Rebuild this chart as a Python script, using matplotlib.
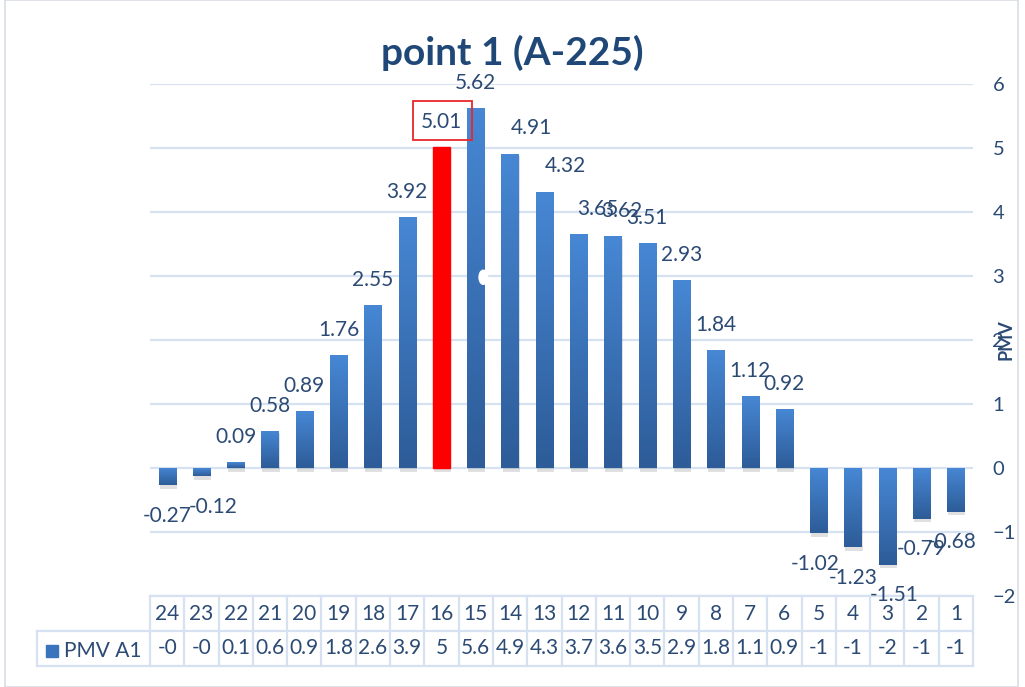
import matplotlib
matplotlib.use("Agg")
import matplotlib.pyplot as plt
import numpy as np
from matplotlib.patches import Rectangle, Ellipse
from matplotlib.colors import LinearSegmentedColormap

plt.rcParams['font.family'] = ['Lato', 'DejaVu Sans']

# data
hours = ['24', '23', '22', '21', '20', '19', '18', '17', '16', '15', '14', '13',
         '12', '11', '10', '9', '8', '7', '6', '5', '4', '3', '2', '1']
pmv = [-0.27, -0.12, 0.09, 0.58, 0.89, 1.76, 2.55, 3.92, 5.01, 5.62, 4.91, 4.32,
       3.65, 3.62, 3.51, 2.93, 1.84, 1.12, 0.92, -1.02, -1.23, -1.51, -0.79, -0.68]
table_vals = ['-0', '-0', '0.1', '0.6', '0.9', '1.8', '2.6', '3.9', '5', '5.6', '4.9', '4.3',
              '3.7', '3.6', '3.5', '2.9', '1.8', '1.1', '0.9', '-1', '-1', '-2', '-1', '-1']
highlight = '16'

txt = '#2B4A74'
grid_c = '#D6E2F1'

W, H = 1025, 687
fig = plt.figure(figsize=(W / 100, H / 100), dpi=100)
ax = fig.add_axes([150 / W, (H - 596) / H, (973 - 150) / W, (596 - 84) / H])

x = np.arange(len(hours))
ax.set_yticks(range(-2, 7))
ax.grid(axis='y', color=grid_c, lw=1.6)
ax.set_axisbelow(True)
for s in ax.spines.values():
    s.set_visible(False)
ax.yaxis.tick_right()
ax.tick_params(axis='y', length=0, pad=14, labelsize=14.5, labelcolor=txt)
ax.set_xticks([])

# gradient image for bars
grad = np.linspace(0, 1, 100).reshape(-1, 1)
cmap = LinearSegmentedColormap.from_list('b', ['#2D5C98', '#4787D4'])

bars = ax.bar(x, pmv, width=0.5, color='#3A74BD', zorder=3)
for b, h, v in zip(bars, hours, pmv):
    bx, bw = b.get_x(), b.get_width()
    # soft shadow
    ax.add_patch(Rectangle((bx + 0.03, min(0, v) - 0.06), bw, abs(v) + 0.02,
                           color='#000000', alpha=0.12, lw=0, zorder=2))
    if h == highlight:
        b.set_color('#FF0000')
        continue
    b.set_alpha(0)
    lo, hi = min(0, v), max(0, v)
    im = ax.imshow(grad, extent=(bx, bx + bw, lo, hi), origin='lower', cmap=cmap,
                   aspect='auto', zorder=3)
    im.set_clip_path(Rectangle((bx, lo), bw, hi - lo, transform=ax.transData))
ax.set_xlim(-0.5, len(hours) - 0.5)
ax.set_ylim(-2, 6)

# data labels
xoff = {'23': 0.35, '14': 0.62, '13': 0.62, '12': 0.55, '11': 0.25, '5': -0.1,
        '3': 0.2, '1': -0.1}
for xi, h, v in zip(x, hours, pmv):
    dx = xoff.get(h, 0)
    if v >= 0:
        ax.annotate(f'{v:g}', (xi + dx, v), xytext=(0, 11), textcoords='offset points',
                    ha='center', va='bottom', fontsize=15, color=txt, zorder=5)
    else:
        ax.annotate(f'{v:g}', (xi + dx, v), xytext=(0, -15), textcoords='offset points',
                    ha='center', va='top', fontsize=15, color=txt, zorder=5)

# box around highlighted label
hi_i = hours.index(highlight)
ax.add_patch(Rectangle((hi_i - 0.84, pmv[hi_i] + 0.12), 1.72, 0.6, fill=False,
                       edgecolor='#E8262B', lw=1.3, zorder=6, clip_on=False))

# small white ellipse artefact on bar 15
ax.add_patch(Ellipse((hours.index('15') + 0.22, 2.98), 0.25, 0.22, color='white', zorder=6))

# data table under the axis
rh = 35 / 512
tr = ax.get_xaxis_transform()
tc = dict(color=grid_c, lw=1.6, clip_on=False, transform=tr)
x0, x1 = -0.5, len(hours) - 0.5
lab_x0 = -0.5 - (150 - 37) / (823 / 24)
ax.plot([x0, x1], [0, 0], **tc)
ax.plot([lab_x0, x1], [-rh, -rh], **tc)
ax.plot([lab_x0, x1], [-2 * rh, -2 * rh], **tc)
ax.plot([lab_x0, lab_x0], [-rh, -2 * rh], **tc)
for k in range(len(hours) + 1):
    ax.plot([k - 0.5, k - 0.5], [0, -2 * rh], **tc)
for xi, h, tv in zip(x, hours, table_vals):
    ax.text(xi, -rh / 2, h, transform=tr, ha='center', va='center', fontsize=15, color=txt)
    ax.text(xi, -1.5 * rh, tv, transform=tr, ha='center', va='center', fontsize=15, color=txt)
fig.patches.append(Rectangle((46 / W, (H - 657) / H), 12 / W, 12 / H, color='#3A74BD',
                             transform=fig.transFigure))
fig.text(64 / W, (H - 651) / H, 'PMV A1', ha='left', va='center', fontsize=15, color=txt)

# title, axis label
fig.text(512 / W, (H - 53) / H, 'point 1 (A-225)', ha='center', va='center',
         fontsize=28, fontweight='bold', color='#1F4878')
fig.text(1006 / W, (H - 340) / H, 'PMV', rotation=90, ha='center', va='center',
         fontsize=13, fontweight='bold', color=txt)

# chart border
fig.patches.append(Rectangle((5 / W, 0), 1013 / W, 1, fill=False, edgecolor='#D9DDE5',
                             lw=1.2, transform=fig.transFigure))

fig.savefig('out.png', dpi=100)
